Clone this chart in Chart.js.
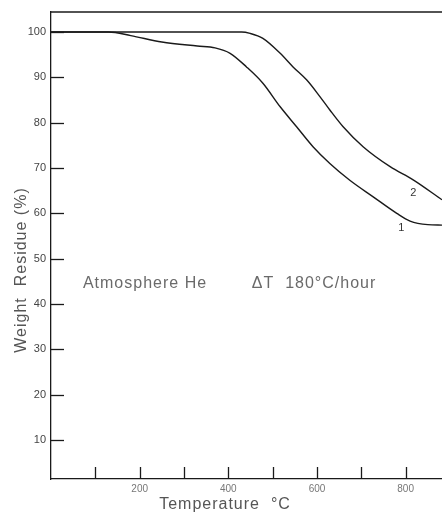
<!DOCTYPE html>
<html>
<head>
<meta charset="utf-8">
<script src="https://cdn.jsdelivr.net/npm/chart.js@4.4.1/dist/chart.umd.min.js"></script>
<style>
  html, body { margin: 0; padding: 0; background: #fff; }
  #wrap { width: 442px; height: 513px; position: relative; }
</style>
</head>
<body>
<div id="wrap"><canvas id="c"></canvas></div>
<script>
// Curve 1 (lower) and curve 2 (upper).
const temps1 = [0, 130, 180, 250, 330, 370, 404, 441, 478, 517, 554, 591, 629, 674, 726, 780, 810, 850, 882];
const resid1 = [100, 100, 99.2, 97.8, 96.9, 96.5, 95.3, 92.3, 88.7, 83.5, 79.1, 74.7, 71, 67.3, 63.7, 60, 58.3, 57.5, 57.4];
const temps2 = [0, 430, 449, 478, 517, 546, 577, 607, 629, 659, 704, 765, 817, 882];
const resid2 = [100, 100, 99.7, 98.6, 95.3, 92.3, 89.4, 85.7, 82.8, 79.1, 74.7, 70.3, 67.4, 63];

const yTickVals = [10, 20, 30, 40, 50, 60, 70, 80, 90, 100];
const xTickVals = [100, 200, 300, 400, 500, 600, 700, 800];
const xLabelVals = [200, 400, 600, 800];

const FONT = "'Liberation Sans', Arial, sans-serif";

const toPoints = (xs, ys) => xs.map((x, i) => ({ x, y: ys[i] }));

// Inside ticks, top frame line and the free-floating annotations.
const decor = {
    id: "decor",
    afterDraw(chart) {
        const { ctx, chartArea: a } = chart;
        const xs = chart.scales.x;
        const ys = chart.scales.y;
        ctx.save();
        ctx.strokeStyle = "#1a1a1a";
        ctx.lineWidth = 1.3;
        ctx.beginPath();
        ctx.moveTo(a.left, a.top);
        ctx.lineTo(a.right, a.top);
        ctx.stroke();
        yTickVals.forEach((v) => {
            const y = Math.round(ys.getPixelForValue(v)) + 0.5;
            ctx.beginPath();
            ctx.moveTo(a.left, y);
            ctx.lineTo(a.left + 13, y);
            ctx.stroke();
        });
        xTickVals.forEach((v) => {
            const x = Math.round(xs.getPixelForValue(v)) + 0.5;
            ctx.beginPath();
            ctx.moveTo(x, a.bottom);
            ctx.lineTo(x, a.bottom - 12);
            ctx.stroke();
        });

        ctx.textBaseline = "middle";
        ctx.fillStyle = "#6a6a6a";
        ctx.font = "16px " + FONT;
        ctx.letterSpacing = "1px";
        ctx.textAlign = "left";
        const ty = ys.getPixelForValue(44.6);
        ctx.fillText("Atmosphere He", xs.getPixelForValue(72), ty);
        ctx.fillText("ΔT  180°C/hour", xs.getPixelForValue(453), ty);

        ctx.letterSpacing = "0px";
        ctx.font = "11px " + FONT;
        ctx.fillStyle = "#333";
        ctx.textAlign = "center";
        ctx.fillText("1", xs.getPixelForValue(790), ys.getPixelForValue(56.8));
        ctx.fillText("2", xs.getPixelForValue(817), ys.getPixelForValue(64.5));

        // axis titles
        ctx.fillStyle = "#555";
        ctx.font = "16px " + FONT;
        ctx.letterSpacing = "1px";
        ctx.fillText("Temperature  °C", 225, 505);
        ctx.translate(22, 270);
        ctx.rotate(-Math.PI / 2);
        ctx.fillText("Weight  Residue (%)", 0, 0);
        ctx.restore();
    },
};

new Chart(document.getElementById("c"), {
    type: "line",
    data: {
        datasets: [
            { label: "1", data: toPoints(temps1, resid1) },
            { label: "2", data: toPoints(temps2, resid2) },
        ],
    },
    options: {
        responsive: true,
        maintainAspectRatio: false,
        animation: false,
        layout: { padding: { top: 12, right: 0, left: 0, bottom: 0 } },
        elements: {
            line: { borderColor: "#1a1a1a", borderWidth: 1.4, cubicInterpolationMode: "monotone", fill: false },
            point: { radius: 0 },
        },
        plugins: { legend: { display: false }, tooltip: { enabled: false } },
        scales: {
            x: {
                type: "linear",
                min: 0,
                max: 882,
                afterFit: (s) => { s.height = 34; },
                afterBuildTicks: (s) => { s.ticks = xLabelVals.map((v) => ({ value: v })); },
                grid: { display: false, drawTicks: false },
                border: { color: "#1a1a1a", width: 1.3 },
                ticks: { padding: 4, color: "#777", font: { family: FONT, size: 10 } },
            },
            y: {
                type: "linear",
                min: 1.4,
                max: 104.41,
                afterFit: (s) => { s.width = 51; },
                afterBuildTicks: (s) => { s.ticks = yTickVals.map((v) => ({ value: v })); },
                grid: { display: false, drawTicks: false },
                border: { color: "#1a1a1a", width: 1.3 },
                ticks: { padding: 5, color: "#444", font: { family: FONT, size: 11 } },
            },
        },
    },
    plugins: [decor],
});
</script>
</body>
</html>
